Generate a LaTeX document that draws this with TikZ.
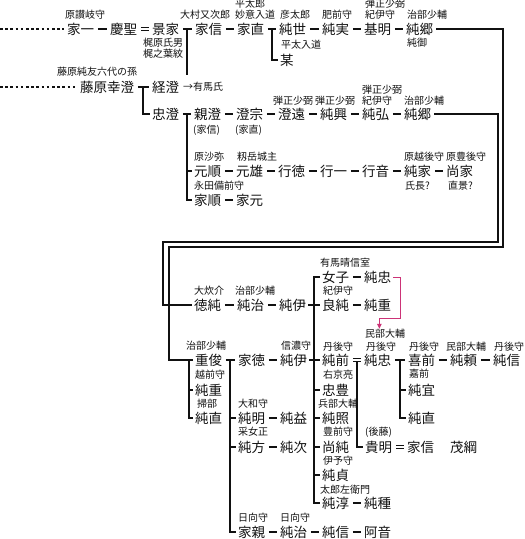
\documentclass[tikz,border=0pt]{standalone}
\usepackage{fontspec}
\setmainfont{Noto Sans CJK JP}
\usetikzlibrary{arrows.meta,calc}
\definecolor{kfInk}{HTML}{111111}
\definecolor{kfPink}{HTML}{CC3377}
\tikzset{
 kafu/.style={x=1pt,y=-1pt,text=kfInk,line join=miter},
 nm/.style={font=\fontsize{13.5}{14}\selectfont,inner sep=0pt,anchor=west,text height=11.9pt,text depth=1.6pt},
 lb/.style={font=\fontsize{10}{11}\selectfont,inner sep=0pt,anchor=west,text height=8.8pt,text depth=1.2pt},
 link/.style={draw=kfInk,line width=1.8pt,shorten <=3.5pt,shorten >=3.5pt},
 eqlink/.style={draw=kfInk,line width=.9pt,double=white,double distance=2pt,shorten <=3.5pt,shorten >=3.5pt},
 trunk/.style={draw=kfInk,line width=1.8pt},
 dotline/.style={draw=kfInk,line width=1.6pt,dash pattern=on 2.6pt off 2.6pt},
 adopt/.style={draw=kfPink,line width=1pt,-{Triangle[length=5pt,width=4.5pt]}}
}

\begin{document}
\begin{tikzpicture}[kafu]
 \useasboundingbox (0,0) rectangle (525,539);
 % names
 \foreach \n/\x/\y/\txt in {ieichi/67/29/家一,keisei/110/29/慶聖,kageie/152/29/景家,ienobuA/195/29/家信,
  ienaoA/237/29/家直,sumiyo/279/29/純世,sumizane/322/29/純実,motoaki/364/29/基明,sumisatoA/406/29/純郷,
  nanigashi/280/60/某,yukizumi/80/87/藤原幸澄,tsunezumi/152/87/経澄,
  tadazumi/152/114/忠澄,chikazumi/194/114/親澄,sumimune/236/114/澄宗,sumito/278/114/澄遠,
  sumioki/320/114/純興,sumihiro/362/114/純弘,sumisatoB/404/114/純郷,
  motoyori/194/171/元順,motoo/236/171/元雄,yukinori/278/171/行徳,yukikazu/320/171/行一,
  yukioto/362/171/行音,sumiie/404/171/純家,naoie/446/171/尚家,ieyori/194/200/家順,iemoto/236/200/家元,
  nyoshi/322/277/女子,sumitadaA/364/277/純忠,
  norizumi/194/305/徳純,sumiharuA/237/305/純治,sumikoreA/279/305/純伊,yoshizumi/322/305/良純,sumishigeA/364/305/純重,
  shigetoshi/195/360/重俊,ienori/238/360/家徳,sumikoreB/280/360/純伊,sumisaki/322/360/純前,
  sumitadaB/364/360/純忠,yoshiaki/408/360/喜前,sumiyori/450/360/純頼,suminobuA/493/360/純信,
  sumishigeB/195/390/純重,tadatoyo/322/390/忠豊,sumiyoshi/408/390/純宜,
  sumiinaoA/195/418/純直,sumiaki/238/418/純明,sumimasu/280/418/純益,sumiteru/322/418/純照,sumiinaoB/408/418/純直,
  sumikata/238/447/純方,sumitsugu/280/447/純次,naozumi/322/447/尚純,takaaki/365/447/貴明,
  ienobuB/407/447/家信,shigetsuna/450/447/茂綱,sumisada/322/475/純貞,
  sumiatsu/322/503/純淳,sumitane/364/503/純種,
  iechika/238/532/家親,sumiharuB/280/532/純治,suminobuB/322/532/純信,ao/364/532/阿音}
  {\node[nm] (\n) at (\x,\y) {\txt};}
 % titles and notes
 \foreach \n/\x/\y/\txt in {l01/65/15/原讃岐守,l02/180/15/大村又次郎,l03/235/4/平太郎,l04/235/15/妙意入道,
  l05/280/15/彦太郎,l06/322/15/肥前守,l07/365/4/弾正少弼,l08/365/15/紀伊守,l09/407/15/治部少輔,
  l10/407/43/純御,l11/143/43/梶原氏男,l12/143/54/梶之葉紋,l13/281/45/平太入道,
  l14/57/72/藤原純友六代の孫,arima/183/87/→有馬氏,
  l16/193/130/{(家信)},l17/235/130/{(家直)},l18/273/101/弾正少弼,l19/315/101/弾正少弼,
  l20/362/90/弾正少弼,l21/362/101/紀伊守,l22/404/101/治部少輔,
  l23/194/157/原沙弥,l24/237/157/籾岳城主,l25/404/157/原越後守,l26/446/157/原豊後守,
  l27/405/186/氏長?,l28/448/186/直景?,l29/194/186/永田備前守,
  l30/320/263/有馬晴信室,l31/194/291/大炊介,l32/235/291/治部少輔,l33/323/291/紀伊守,
  l34/186/346/治部少輔,l35/281/346/信濃守,l36/323/347/丹後守,minbuA/365/334/民部大輔,
  l37/366/347/丹後守,l38/409/347/丹後守,l39/446/347/民部大輔,l40/494/347/丹後守,
  l41/195/375/越前守,l42/323/375/右京亮,l43/409/374/嘉前,
  l44/197/404/掃部,l45/238/404/大和守,l46/318/404/兵部大輔,
  l47/238/432/采女正,l48/323/432/豊前守,l49/365/432/{(後藤)},
  l50/323/461/伊予守,l51/320/490/太郎左衛門,l52/238/518/日向守,l53/280/518/日向守}
  {\node[lb] (\n) at (\x,\y) {\txt};}
 % one-step links
 \foreach \a/\b in {ieichi/keisei,kageie/ienobuA,ienobuA/ienaoA,ienaoA/sumiyo,sumiyo/sumizane,
  sumizane/motoaki,motoaki/sumisatoA,yukizumi/tsunezumi,
  tadazumi/chikazumi,chikazumi/sumimune,sumimune/sumito,sumito/sumioki,sumioki/sumihiro,sumihiro/sumisatoB,
  motoyori/motoo,motoo/yukinori,yukinori/yukikazu,yukikazu/yukioto,yukioto/sumiie,sumiie/naoie,
  ieyori/iemoto,nyoshi/sumitadaA,norizumi/sumiharuA,sumiharuA/sumikoreA,yoshizumi/sumishigeA,
  shigetoshi/ienori,ienori/sumikoreB,sumitadaB/yoshiaki,yoshiaki/sumiyori,sumiyori/suminobuA,
  sumiaki/sumimasu,sumikata/sumitsugu,sumiatsu/sumitane,iechika/sumiharuB,sumiharuB/suminobuB,suminobuB/ao}
  {\draw[link] (\a) -- (\b);}
 \foreach \a/\b in {keisei/kageie,sumisaki/sumitadaB,takaaki/ienobuB}
  {\draw[eqlink] (\a) -- (\b);}
 % earlier lines
 \coordinate (w1) at (0,29);
 \coordinate (w2) at (0,87);
 \draw[dotline] (w1) -- ([xshift=-3pt]ieichi.west);
 \draw[dotline] (w2) -- ([xshift=-3pt]yukizumi.west);
 % branch points
 \coordinate (t1) at ($(kageie.east)!.5!(ienobuA.west)$);
 \coordinate (t2) at ($(yukizumi.east)!.5!(tsunezumi.west)$);
 \coordinate (t3) at ($(tadazumi.east)!.5!(chikazumi.west)$);
 \coordinate (t4) at ($(ienaoA.east)!.5!(sumiyo.west)$);
 \coordinate (t6) at ([xshift=-6pt]shigetoshi.west);
 \coordinate (t7) at ($(shigetoshi.east)!.5!(ienori.west)$);
 \coordinate (t8) at ($(sumikoreA.east)!.5!(yoshizumi.west)$);
 \coordinate (t9) at ($(sumitadaB.east)!.5!(yoshiaki.west)$);
 \coordinate (t10) at ($(sumisaki.east)!.5!(sumitadaB.west)$);
 \draw[trunk] (t1) -- ++(0,46);
 \draw[trunk] (t2) |- ([xshift=-2pt]tadazumi.west);
 \draw[trunk] (t4) |- ([xshift=-2pt]nanigashi.west);
 \draw[trunk] (t3) |- ([xshift=-2pt]ieyori.west);
 \draw[trunk] (t3 |- motoyori) -- ([xshift=-2pt]motoyori.west);
 % the two lines of 純郷
 \draw[trunk] ([xshift=3pt]sumisatoB.east) -| (498,242) -- (163,242) |- ([xshift=-2pt]norizumi.west);
 \draw[trunk] ([xshift=3pt]sumisatoA.east) -| (503,247) -- (169,247) |- ([xshift=-2pt]shigetoshi.west);
 \draw[trunk] (t6) |- ([xshift=-2pt]sumiinaoA.west);
 \draw[trunk] (t6 |- sumishigeB) -- ([xshift=-2pt]sumishigeB.west);
 \draw[trunk] (t7) |- ([xshift=-2pt]iechika.west);
 \foreach \n in {sumiaki,sumikata}
  {\draw[trunk] (t7 |- \n) -- ([xshift=-2pt]\n.west);}
 \draw[trunk] ([xshift=-2pt]nyoshi.west) -| (t8 |- sumiatsu) -- ([xshift=-2pt]sumiatsu.west);
 \foreach \n in {yoshizumi,sumisaki,tadatoyo,sumiteru,naozumi,sumisada}
  {\draw[trunk] (t8 |- \n) -- ([xshift=-2pt]\n.west);}
 \draw[trunk] ([xshift=2pt]sumikoreA.east) -- (t8 |- sumikoreA);
 \draw[trunk] ([xshift=2pt]sumikoreB.east) -- (t8 |- sumikoreB);
 \draw[trunk] (t9) |- ([xshift=-2pt]sumiinaoB.west);
 \draw[trunk] (t9 |- sumiyoshi) -- ([xshift=-2pt]sumiyoshi.west);
 \draw[trunk] ([yshift=-2pt]t10) |- ([xshift=-2pt]takaaki.west);
 % same person
 \draw[adopt] ([xshift=2pt]sumitadaA.east) -- ++(7,0) -- ++(0,41) -- ++(-21,0) coordinate (pk) -- (pk |- minbuA.north);
\end{tikzpicture}
\end{document}
